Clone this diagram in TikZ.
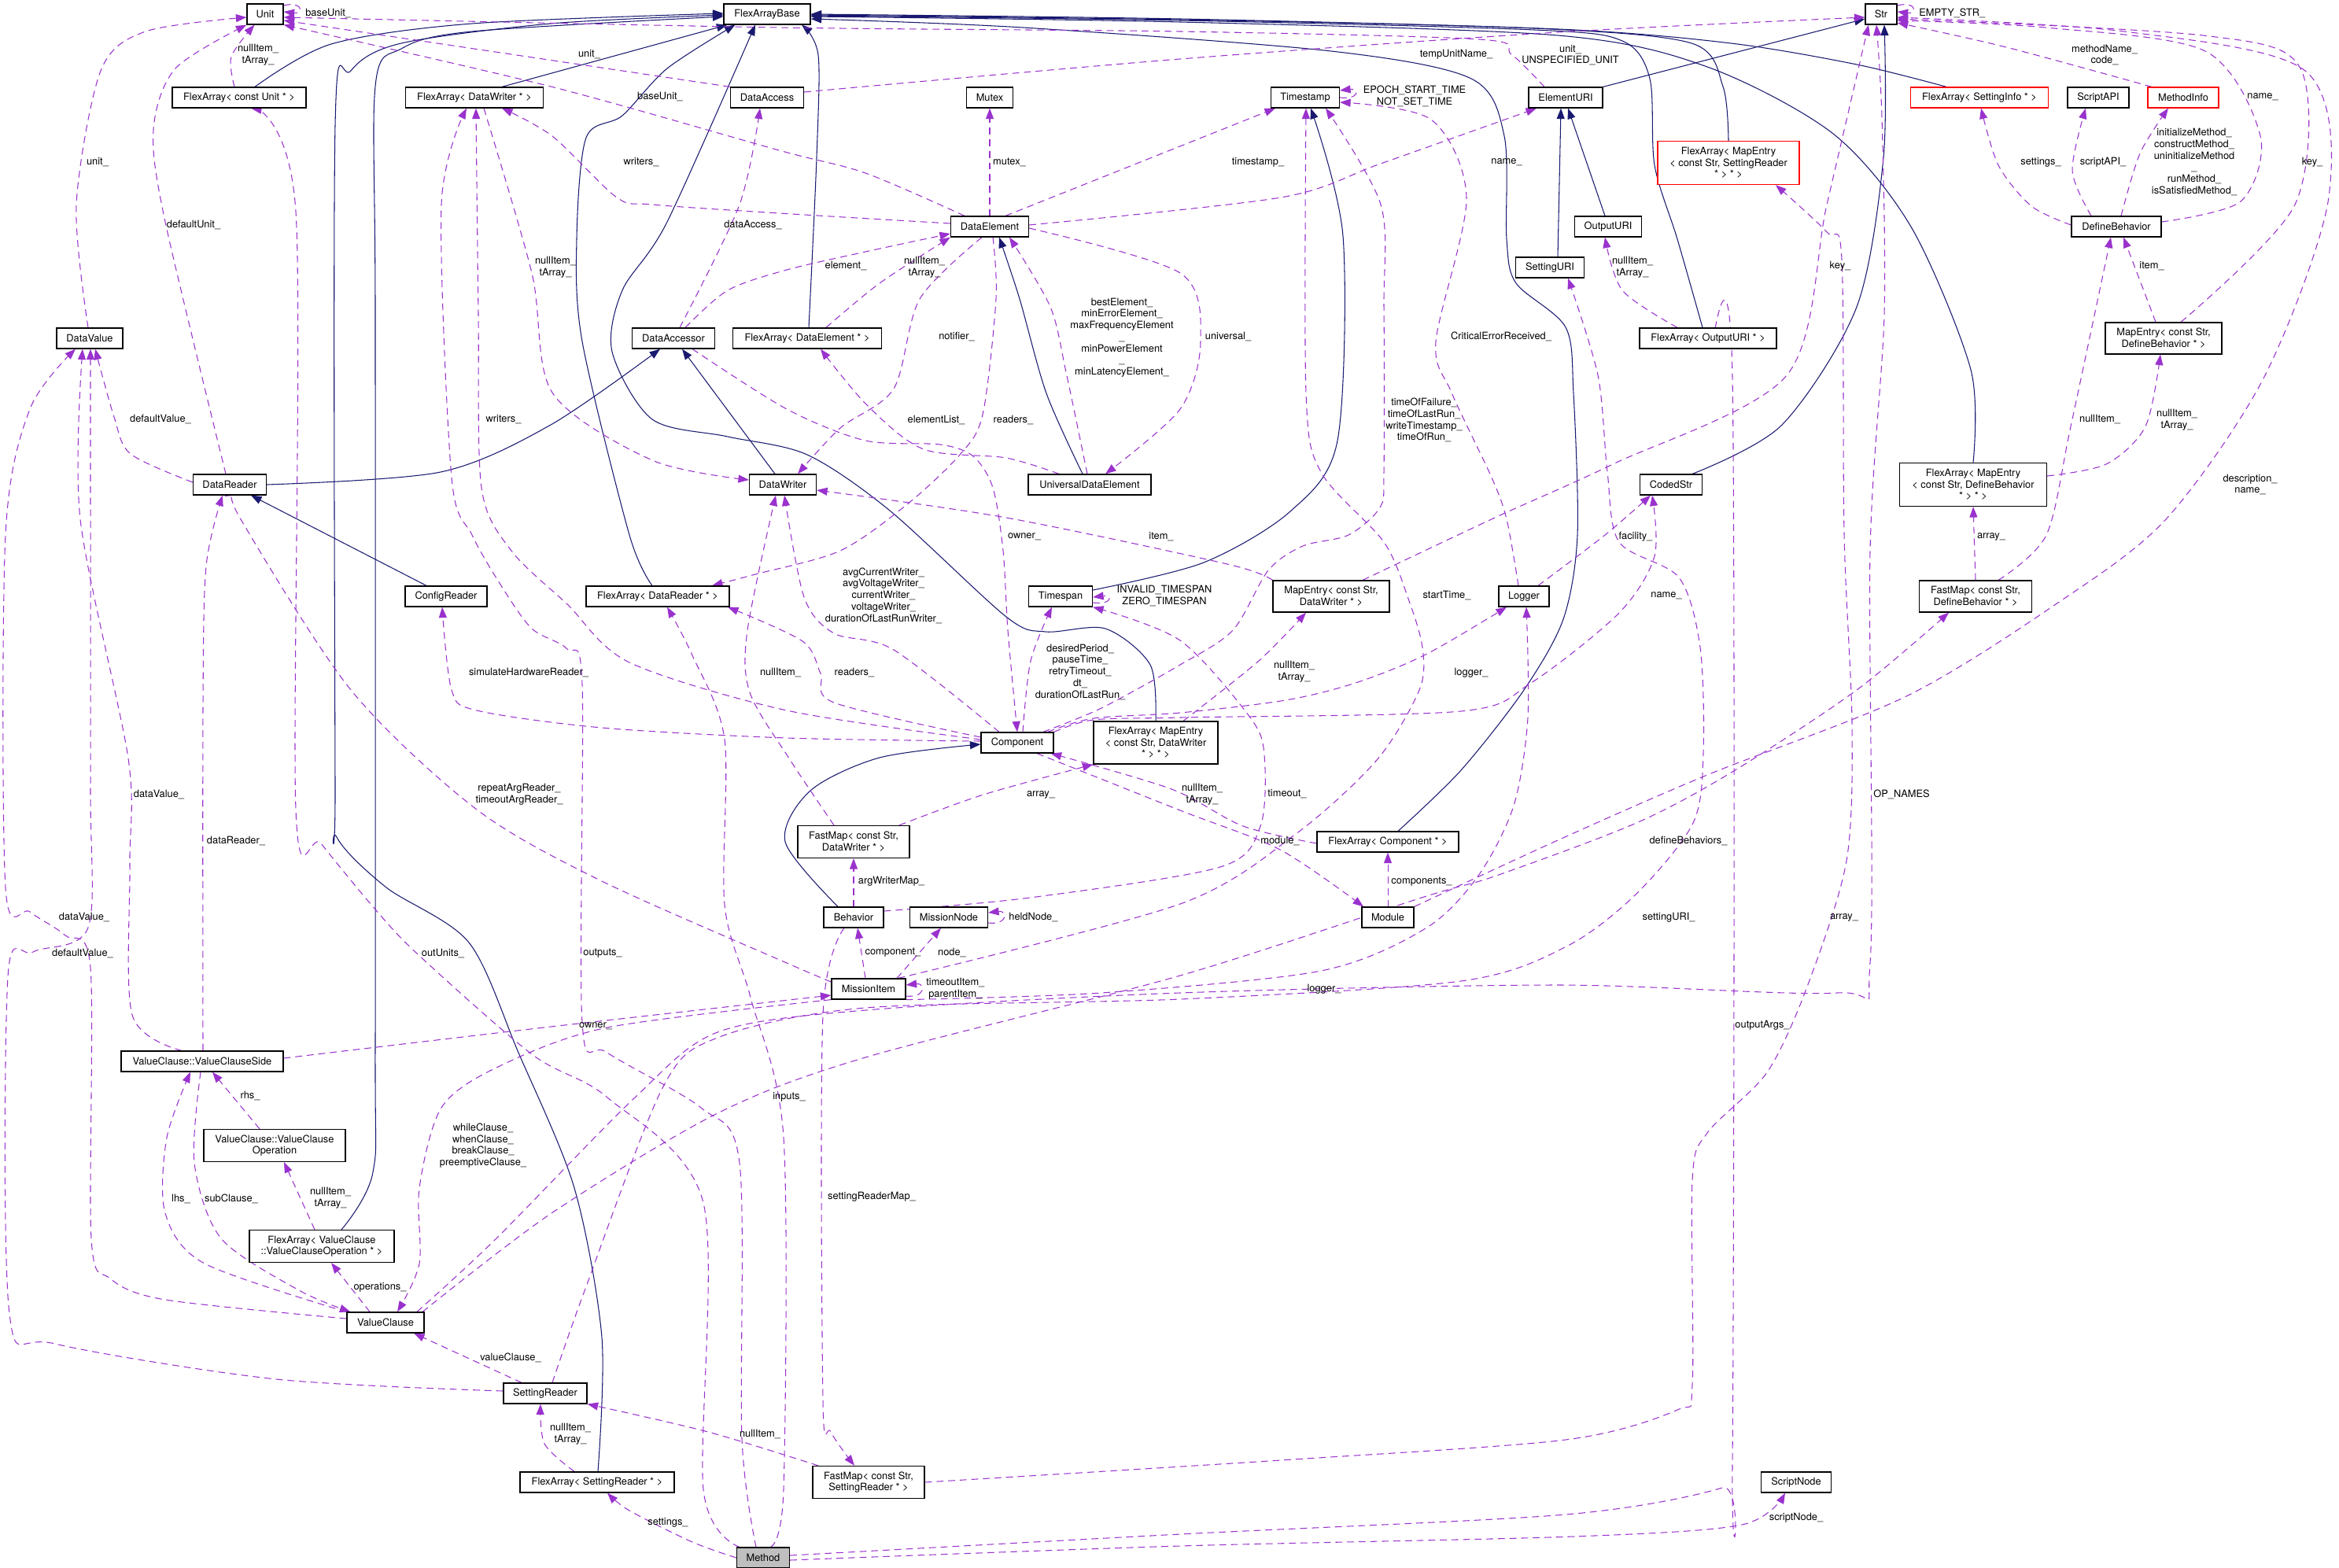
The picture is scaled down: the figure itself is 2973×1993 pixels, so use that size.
\documentclass[tikz,border=0pt]{standalone}
\usepackage{fontspec}
\setmainfont{TeX Gyre Heros}
\usetikzlibrary{arrows.meta}
\definecolor{inhcol}{HTML}{191970}
\definecolor{usecol}{HTML}{9A32CD}
\definecolor{methodgray}{HTML}{BFBFBF}
\pgfdeclarelayer{bg}
\pgfsetlayers{bg,main}
\newcommand{\dfont}{\fontsize{7.3}{8.4}\selectfont}

\begin{document}
\begin{tikzpicture}[x=0.02cm,y=-0.02cm,
  cls/.style={draw,line width=0.7pt,fill=white,inner sep=0pt,minimum height=0.52cm,align=center,font=\dfont},
  redcls/.style={cls,draw=red},
  bw/.style={minimum width=#1*0.2mm},
  bh/.style={minimum height=#1*0.2mm},
  lbl/.style={font=\dfont,align=center,inner sep=0pt},
  inh/.style={draw=inhcol,line width=0.6pt,-{Triangle[length=0.27cm,width=0.2cm]}},
  dep/.style={draw=usecol,line width=0.6pt,dash pattern=on 5pt off 3.4pt,-{Triangle[length=0.27cm,width=0.2cm]}}]
\useasboundingbox (0,0) rectangle (2973,1993);

% classes
\node[cls,bw=46] (unit) at (337,18) {Unit};
\node[cls,bw=110] (fab) at (975,18) {FlexArrayBase};
\node[cls,bw=40] (str) at (2391,18) {Str};
\node[cls,bw=170] (facu) at (304,124) {FlexArray< const Unit * >};
\node[cls,bw=175] (fadw) at (603,124) {FlexArray< DataWriter * >};
\node[cls,bw=93] (dacc) at (975,124) {DataAccess};
\node[cls,bw=59] (mutex) at (1258,124) {Mutex};
\node[cls,bw=87] (tstamp) at (1659,124) {Timestamp};
\node[cls,bw=94] (euri) at (1990,124) {ElementURI};
\node[redcls,bw=175] (fasi) at (2516,124) {FlexArray< SettingInfo * >};
\node[cls,bw=78] (sapi) at (2667,124) {ScriptAPI};
\node[redcls,bw=90] (minfo) at (2775,124) {MethodInfo};
\node[redcls,bw=180,bh=55] (famesr) at (2197,207) {FlexArray< MapEntry\\< const Str, SettingReader\\ * > * >};
\node[cls,bw=99] (delem) at (1258,288) {DataElement};
\node[cls,bw=85] (ouri) at (2044,288) {OutputURI};
\node[cls,bw=114] (defb) at (2690,288) {DefineBehavior};
\node[cls,bw=87] (suri) at (1970,340) {SettingURI};
\node[cls,bw=84] (dval) at (114,430) {DataValue};
\node[cls,bw=105] (daccr) at (856,430) {DataAccessor};
\node[cls,bw=189] (fade) at (1026,430) {FlexArray< DataElement * >};
\node[cls,bw=174] (faou) at (2171,430) {FlexArray< OutputURI * >};
\node[cls,bw=148,bh=40] (medb) at (2750,430) {MapEntry< const Str,\\ DefineBehavior * >};
\node[cls,bw=93] (drd) at (292,616) {DataReader};
\node[cls,bw=85] (dwr) at (995,616) {DataWriter};
\node[cls,bw=156] (ude) at (1385,616) {UniversalDataElement};
\node[cls,bw=79] (cstr) at (2124,616) {CodedStr};
\node[cls,bw=187,bh=55] (famedb) at (2508,616) {FlexArray< MapEntry\\< const Str, DefineBehavior\\ * > * >};
\node[cls,bw=104] (cfgr) at (567,758) {ConfigReader};
\node[cls,bw=182] (fadr) at (836,758) {FlexArray< DataReader * >};
\node[cls,bw=81] (tspan) at (1348,758) {Timespan};
\node[cls,bw=148,bh=40] (medw) at (1692,758) {MapEntry< const Str,\\ DataWriter * >};
\node[cls,bw=64] (logger) at (1937,758) {Logger};
\node[cls,bw=143,bh=40] (fmdb) at (2511,758) {FastMap< const Str,\\ DefineBehavior * >};
\node[cls,bw=92] (comp) at (1293,944) {Component};
\node[cls,bw=158,bh=54] (famedw) at (1469,944) {FlexArray< MapEntry\\< const Str, DataWriter\\ * > * >};
\node[cls,bw=142,bh=41] (fmdw) at (1085,1070) {FastMap< const Str,\\ DataWriter * >};
\node[cls,bw=180] (fac) at (1764,1070) {FlexArray< Component * >};
\node[cls,bw=76] (behav) at (1085,1166) {Behavior};
\node[cls,bw=99] (mnode) at (1206,1166) {MissionNode};
\node[cls,bw=66] (module) at (1764,1166) {Module};
\node[cls,bw=94] (mitem) at (1104,1257) {MissionItem};
\node[cls,bw=206] (vcs) at (257,1349) {ValueClause::ValueClauseSide};
\node[cls,bw=180,bh=41] (vco) at (349,1456) {ValueClause::ValueClause\\Operation};
\node[cls,bw=184,bh=41] (favco) at (409,1584) {FlexArray< ValueClause\\::ValueClauseOperation * >};
\node[cls,bw=98] (vcl) at (490,1681) {ValueClause};
\node[cls,bw=106] (srd) at (693,1771) {SettingReader};
\node[cls,bw=196] (fasr) at (759,1884) {FlexArray< SettingReader * >};
\node[cls,bw=142,bh=41] (fmsr) at (1104,1884) {FastMap< const Str,\\ SettingReader * >};
\node[cls,bw=89] (snode) at (2283,1884) {ScriptNode};
\node[cls,bw=67,fill=methodgray] (method) at (970,1980) {Method};

\begin{pgfonlayer}{bg}
% inheritance
\draw[inh] plot[smooth] coordinates {([shift={(20,0)}]facu.north) (421,56) (600,30) ([shift={(0,-1)}]fab.west)};
\draw[inh] ([shift={(35,0)}]fadw.north) -- ([shift={(5,0)}]fab.south west);
\draw[inh] plot[smooth] coordinates {([shift={(2,0)}]fade.north) (1038,200) (1040,70) ([shift={(44,0)}]fab.south)};
\draw[inh] plot[smooth] coordinates {([shift={(-7,0)}]fadr.north) (800,680) (740,434) (733,303) (745,175) (791,147) (848,87) ([shift={(15,0)}]fab.south west)};
\draw[inh] ([shift={(-25,0)}]cfgr.north) -- ([shift={(27,0)}]drd.south);
\draw[inh] plot[smooth] coordinates {(drd.east) (560,600) (700,540) ([shift={(-17,0)}]daccr.south)};
\draw[inh] ([shift={(-10,0)}]dwr.north) -- ([shift={(11,0)}]daccr.south);
\draw[inh] plot[smooth] coordinates {([shift={(-9,0)}]ude.north) (1330,500) (1296,380) ([shift={(12,0)}]delem.south)};
\draw[inh] plot[smooth] coordinates {([shift={(0,-8)}]tspan.east) (1530,715) (1640,650) (1700,560) (1707,300) ([shift={(7,0)}]tstamp.south)};
\draw[inh] (euri.north east) -- ([shift={(0,6)}]str.west);
\draw[inh] ([shift={(10,0)}]suri.north) -- ([shift={(-6,0)}]euri.south);
\draw[inh] ([shift={(-4,0)}]ouri.north) -- ([shift={(3,0)}]euri.south);
\draw[inh] plot[smooth] coordinates {([shift={(-7,0)}]faou.north) (2132,304) (2103,210) (2097,100) (2062,52) (1950,38) (1500,26) ([shift={(0,2)}]fab.east)};
\draw[inh] plot[smooth] coordinates {(famesr.north) (2190,110) (2150,55) (1950,36) (1500,25) ([shift={(0,1)}]fab.east)};
\draw[inh] plot[smooth] coordinates {([shift={(-42,0)}]fasi.north) (2360,82) (2200,55) (1980,37) (1500,24) (fab.east)};
\draw[inh] plot[smooth] coordinates {(famedb.north) (2505,470) (2430,290) (2330,170) (2170,85) (1980,45) (1500,28) ([shift={(0,3)}]fab.east)};
\draw[inh] plot[smooth] coordinates {([shift={(27,0)}]cstr.north) (2265,540) (2360,390) (2394,200) ([shift={(4,0)}]str.south)};
\draw[inh] plot[smooth] coordinates {([shift={(13,0)}]fac.north) (1857,979) (1937,877) (1987,787) (2005,680) (2000,500) (1990,416) (1927,360) (1915,304) (1912,173) (1870,100) (1692,65) (1300,35) ([shift={(0,6)}]fab.east)};
\draw[inh] plot[smooth] coordinates {(famedw.north) (1462,845) (1405,799) (1329,803) (1279,784) (1131,649) (1026,578) (925,555) (829,533) (778,447) (791,369) (848,282) ([shift={(-15,0)}]fab.south)};
\draw[inh] plot[smooth] coordinates {([shift={(-20,0)}]behav.north) (998,1070) (1030,1005) (1118,963) ([shift={(0,2)}]comp.west)};
\draw[inh] plot[smooth] coordinates {([shift={(25,0)}]favco.north) (474,1490) (477,1320) (477,400) (477,110) (510,62) (600,40) ([shift={(0,3)}]fab.west)};
\draw[inh] plot[smooth] coordinates {([shift={(1,0)}]fasr.north) (765,1700) (730,1510) (659,1338) (596,1198) (491,1128) (428,1064) (426,1000) (426,160) (446,90) (510,55) (700,30) ([shift={(0,1)}]fab.west)};

% members
\draw[dep] ([shift={(0,-11)}]unit.east) .. controls +(25,-6) and +(25,3) .. ([shift={(0,-3)}]unit.east);
\draw[dep] plot[smooth] coordinates {([shift={(-2,0)}]dval.north) (97,260) (128,90) (185,40) ([shift={(0,4)}]unit.west)};
\draw[dep] plot[smooth] coordinates {([shift={(-5,0)}]drd.north) (210,282) (195,165) (223,87) (unit.south west)};
\draw[dep] plot[smooth] coordinates {([shift={(-6,0)}]facu.north) (294,72) ([shift={(10,0)}]unit.south west)};
\draw[dep] (dacc.north west) -- ([shift={(0,8)}]unit.east);
\draw[dep] plot[smooth] coordinates {([shift={(-32,0)}]delem.north) (1100,220) (990,191) (700,110) (unit.south east)};
\draw[dep] plot[smooth] coordinates {([shift={(-27,0)}]euri.north) (1921,69) (1880,50) (1500,40) (990,35) ([shift={(0,4)}]unit.east)};
\draw[dep] plot[smooth] coordinates {([shift={(0,-7)}]dacc.east) (1500,75) (1980,41) ([shift={(0,4)}]str.west)};
\draw[dep] plot[smooth] coordinates {([shift={(0,-3)}]drd.west) (166,577) (145,530) ([shift={(7,0)}]dval.south)};
\draw[dep] plot[smooth] coordinates {([shift={(0,-4)}]delem.west) (990,271) (829,260) (784,251) (702,173) ([shift={(35,0)}]fadw.south)};
\draw[dep] plot[smooth] coordinates {([shift={(0,-4)}]comp.west) (1000,903) (800,842) (721,768) (650,700) (612,620) (608,400) ([shift={(2,0)}]fadw.south)};
\draw[dep] plot[smooth] coordinates {([shift={(12,0)}]fadw.south) (676,347) (702,499) (829,585) ([shift={(0,-6)}]dwr.west)};
\draw[dep] plot[smooth] coordinates {([shift={(8,0)}]daccr.north) (940,260) ([shift={(-9,0)}]dacc.south)};
\draw[dep] plot[smooth] coordinates {([shift={(15,0)}]daccr.north) (925,369) (1000,343) (1100,320) ([shift={(0,9)}]delem.west)};
\draw[dep] plot[smooth] coordinates {([shift={(24,0)}]fade.north) (1118,360) (delem.south west)};
\draw[dep] (delem.north) -- (mutex.south);
\draw[dep] ([shift={(20,0)}]delem.north) -- ([shift={(-38,0)}]tstamp.south);
\draw[dep] plot[smooth] coordinates {([shift={(0,-2)}]delem.east) (1628,251) (1755,208) ([shift={(-37,0)}]euri.south)};
\draw[dep] plot[smooth] coordinates {([shift={(-10,0)}]delem.south) (1169,380) (1136,494) (1068,544) ([shift={(19,0)}]dwr.north)};
\draw[dep] plot[smooth] coordinates {([shift={(4,0)}]delem.south) (1266,380) (1249,527) (1220,578) (1153,641) (1068,700) (960,730) ([shift={(69,0)}]fadr.north)};
\draw[dep] plot[smooth] coordinates {([shift={(0,2)}]delem.east) (1500,347) (1526,434) (1500,520) ([shift={(20,0)}]ude.north)};
\draw[dep] plot[smooth] coordinates {([shift={(-3,0)}]ude.north) (1355,473) (1335,390) ([shift={(25,0)}]delem.south)};
\draw[dep] plot[smooth] coordinates {([shift={(-39,0)}]ude.north) (1279,582) (1174,571) (1102,515) ([shift={(17,0)}]fade.south)};
\draw[dep] plot[smooth] coordinates {([shift={(24,0)}]daccr.south) (1000,520) (1100,560) (1195,565) (1237,580) (1262,620) (1275,700) (1281,801) (comp.north)};
\draw[dep] plot[smooth] coordinates {([shift={(0,-7)}]comp.west) (1060,893) (1043,856) (1020,815) ([shift={(89,0)}]fadr.south)};
\draw[dep] plot[smooth] coordinates {([shift={(0,-2)}]comp.west) (1000,938) (765,925) (606,903) (574,877) ([shift={(-5,0)}]cfgr.south)};
\draw[dep] plot[smooth] coordinates {([shift={(-23,0)}]comp.north) (1136,826) (1060,805) (1022,759) ([shift={(2,0)}]dwr.south)};
\draw[dep] plot[smooth] coordinates {([shift={(-25,0)}]fmdw.north) (1003,964) (953,880) (950,801) ([shift={(-9,0)}]dwr.south)};
\draw[dep] plot[smooth] coordinates {([shift={(7,0)}]comp.north) (1310,840) ([shift={(-11,0)}]tspan.south)};
\draw[dep] plot[smooth] coordinates {([shift={(-8,0)}]comp.north east) (1390,913) (1500,906) (1634,890) (1723,868) (1812,832) ([shift={(-22,0)}]logger.south)};
\draw[dep] plot[smooth] coordinates {(comp.north east) (1390,915) (1500,912) (1857,904) (1946,868) (2058,779) (2103,707) ([shift={(-24,0)}]cstr.south)};
\draw[dep] plot[smooth] coordinates {([shift={(-14,0)}]comp.north east) (1400,900) (1500,845) (1567,801) (1612,725) (1656,694) (1714,680) (1754,645) (1759,600) (1759,390) (1755,260) ([shift={(26,0)}]tstamp.south)};
\draw[dep] plot[smooth] coordinates {([shift={(0,2)}]fac.west) (1580,1050) (1489,1003) ([shift={(-4,0)}]comp.south east)};
\draw[dep] plot[smooth] coordinates {([shift={(25,0)}]comp.south) (1500,1030) (1627,1080) ([shift={(-31,0)}]module.north)};
\draw[dep] (module.north) -- (fac.south);
\draw[dep] plot[smooth] coordinates {(module.north east) (1980,1068) (2170,985) (2423,885) (2613,768) (2753,660) (2879,477) (2960,250) (2930,90) (2700,40) ([shift={(0,4)}]str.east)};
\draw[dep] plot[smooth] coordinates {([shift={(58,0)}]fmdw.north) (1250,1010) (famedw.south west)};
\draw[dep] plot[smooth] coordinates {([shift={(35,0)}]famedw.north) (1600,840) ([shift={(-32,0)}]medw.south)};
\draw[dep] plot[smooth] coordinates {(medw.north west) (1560,717) (1279,658) ([shift={(0,7)}]dwr.east)};
\draw[dep] plot[smooth] coordinates {([shift={(40,0)}]medw.north) (1900,658) (2050,590) (2271,477) (2322,260) ([shift={(-16,0)}]str.south)};
\draw[dep] (behav.north) -- (fmdw.south);
\draw[dep] plot[smooth] coordinates {([shift={(0,-8)}]behav.east) (1309,1141) (1551,1102) (1602,1050) (1607,960) (1589,912) (1500,814) (tspan.south east)};
\draw[dep] plot[smooth] coordinates {([shift={(-12,0)}]behav.south) (1046,1290) (1046,1780) (1056,1820) ([shift={(-18,0)}]fmsr.north)};
\draw[dep] ([shift={(-4,0)}]mitem.north) -- ([shift={(5,0)}]behav.south);
\draw[dep] ([shift={(36,0)}]mitem.north) -- ([shift={(-10,0)}]mnode.south);
\draw[dep] ([shift={(0,7)}]mnode.east) .. controls +(25,3) and +(25,-3) .. ([shift={(0,-6)}]mnode.east);
\draw[dep] ([shift={(0,9)}]mitem.east) .. controls +(25,3) and +(25,-3) .. ([shift={(0,-5)}]mitem.east);
\draw[dep] plot[smooth] coordinates {([shift={(0,-9)}]mitem.west) (1000,1224) (765,1120) (606,1029) (446,877) (306,660) ([shift={(8,0)}]drd.south)};
\draw[dep] plot[smooth] coordinates {([shift={(-10,0)}]mitem.north east) (1500,1149) (1647,1060) (1750,966) (1804,877) (1808,823) (1790,761) (1759,689) (1679,600) (1660,500) ([shift={(1,0)}]tstamp.south)};
\draw[dep] plot[smooth] coordinates {(mitem.south east) (1400,1262) (1679,1234) (1812,1180) (1879,1113) (1924,1024) (1942,912) ([shift={(3,0)}]logger.south)};
\draw[dep] plot[smooth] coordinates {([shift={(0,-4)}]vcs.east) (700,1305) ([shift={(0,8)}]mitem.west)};
\draw[dep] plot[smooth] coordinates {(mitem.south west) (772,1306) (631,1357) (561,1408) (533,1510) (533,1606) ([shift={(15,0)}]vcl.north)};
\draw[dep] plot[smooth] coordinates {([shift={(40,0)}]vcl.north) (631,1574) (807,1395) (912,1312) (1100,1284) (1500,1262) (1980,1252) (2335,1262) (2377,1224) (2377,700) (2395,400) (2392,150) ([shift={(-6,0)}]str.south)};
\draw[dep] plot[smooth] coordinates {([shift={(47,0)}]vcl.north) (701,1542) (912,1415) (1100,1344) (1500,1240) (1810,1140) (1902,1113) (2080,1046) (2202,981) (2360,877) ([shift={(-34,0)}]fmdb.south)};
\draw[dep] plot[smooth] coordinates {([shift={(0,-5)}]vcl.west) (210,1652) (140,1625) (116,1574) (115,1230) (83,1189) (38,1159) (7,1128) (7,680) (38,520) ([shift={(-18,0)}]dval.south)};
\draw[dep] plot[smooth] coordinates {([shift={(0,-3)}]srd.west) (351,1753) (70,1708) (12,1670) (10,1242) (42,1210) (112,1179) (115,1000) (115,600) ([shift={(1,0)}]dval.south)};
\draw[dep] plot[smooth] coordinates {([shift={(-26,0)}]vcs.north) (168,1290) (165,1100) (163,964) (102,660) ([shift={(-9,0)}]dval.south)};
\draw[dep] plot[smooth] coordinates {([shift={(1,0)}]vcs.north) (258,900) (262,720) ([shift={(-9,0)}]drd.south)};
\draw[dep] plot[smooth] coordinates {(vcl.north west) (260,1606) (210,1542) (212,1446) ([shift={(-15,0)}]vcs.south)};
\draw[dep] plot[smooth] coordinates {([shift={(-2,0)}]vcs.south) (247,1478) (281,1574) (380,1640) ([shift={(5,0)}]vcl.north west)};
\draw[dep] ([shift={(-19,0)}]vco.north) -- ([shift={(13,0)}]vcs.south);
\draw[dep] ([shift={(-9,0)}]favco.north) -- ([shift={(12,0)}]vco.south);
\draw[dep] ([shift={(-20,0)}]vcl.north) -- ([shift={(12,0)}]favco.south);
\draw[dep] ([shift={(-30,0)}]srd.north) -- ([shift={(36,0)}]vcl.south);
\draw[dep] plot[smooth] coordinates {([shift={(-29,0)}]fasr.north) (692,1835) ([shift={(-6,0)}]srd.south)};
\draw[dep] plot[smooth] coordinates {([shift={(-64,0)}]fmsr.north) (900,1820) (srd.south east)};
\draw[dep] plot[smooth] coordinates {([shift={(9,0)}]srd.north) (744,1638) (842,1383) (912,1319) (1100,1281) (1500,1270) (1857,1247) (1991,1203) (2080,1136) (2152,1046) (2165,957) (2161,823) (2134,734) (2058,689) (2043,600) (2031,477) ([shift={(23,0)}]suri.south)};
\draw[dep] plot[smooth] coordinates {(method.west) (880,1960) (800,1920) ([shift={(13,0)}]fasr.south)};
\draw[dep] plot[smooth] coordinates {([shift={(-30,0)}]method.north) (894,1893) (894,1529) (772,1395) (676,1340) (529,1211) (472,1150) (408,1072) (376,1029) (376,269) ([shift={(15,0)}]facu.south)};
\draw[dep] plot[smooth] coordinates {([shift={(-9,0)}]method.north) (943,1829) (940,1478) (891,1408) (772,1338) (740,1300) (740,870) (721,825) (676,799) (638,746) (600,680) (574,607) (561,260) ([shift={(-10,0)}]fadw.south)};
\draw[dep] plot[smooth] coordinates {([shift={(9,0)}]method.north) (996,1893) (996,1446) (954,1268) (921,1150) (921,940) (880,833) ([shift={(12,0)}]fadr.south)};
\draw[dep] plot[smooth] coordinates {([shift={(0,3)}]method.east) (1500,1965) (2000,1953) (2214,1938) ([shift={(-14,0)}]snode.south)};
\draw[dep] plot[smooth] coordinates {([shift={(0,-3)}]method.east) (1500,1950) (1990,1925) (2189,1891) (2202,1860) (2202,480) ([shift={(5,0)}]faou.south)};
\draw[dep] plot[smooth] coordinates {(fmsr.east) (1628,1856) (1990,1830) (2132,1792) (2151,1760) (2151,1500) (2170,1440) (2246,1363) (2297,1254) (2347,1094) (2354,920) (2344,680) (2341,330) (2322,295) ([shift={(60,0)}]famesr.south)};
\draw[dep] (fmdb.north) -- (famedb.south);
\draw[dep] plot[smooth] coordinates {([shift={(29,0)}]fmdb.north) (2601,680) (2632,542) ([shift={(-7,0)}]defb.south)};
\draw[dep] plot[smooth] coordinates {([shift={(0,-11)}]famedb.east) (2677,590) (2727,542) ([shift={(-4,0)}]medb.south)};
\draw[dep] ([shift={(-10,0)}]medb.north) -- ([shift={(9,0)}]defb.south);
\draw[dep] plot[smooth] coordinates {([shift={(22,0)}]medb.north) (2917,260) (2924,87) (2800,45) ([shift={(0,6)}]str.east)};
\draw[dep] plot[smooth] coordinates {([shift={(0,-2)}]defb.west) (2582,262) (2540,210) ([shift={(2,0)}]fasi.south)};
\draw[dep] plot[smooth] coordinates {([shift={(-32,0)}]defb.north) (2634,217) ([shift={(-16,0)}]sapi.south)};
\draw[dep] plot[smooth] coordinates {([shift={(6,0)}]defb.north) (2720,195) ([shift={(-19,0)}]minfo.south)};
\draw[dep] plot[smooth] coordinates {([shift={(0,-6)}]defb.east) (2848,256) (2873,173) (2803,65) (2600,35) ([shift={(0,8)}]str.east)};
\draw[dep] plot[smooth] coordinates {([shift={(-40,0)}]minfo.north) (2550,60) ([shift={(0,11)}]str.east)};
\draw[dep] ([shift={(0,-11)}]str.east) .. controls +(25,-6) and +(25,3) .. ([shift={(0,-3)}]str.east);
\draw[dep] plot[smooth] coordinates {([shift={(-39,0)}]faou.north) (2062,369) ([shift={(-4,0)}]ouri.south)};
\draw[dep] plot[smooth] coordinates {([shift={(18,0)}]logger.north) (2040,680) ([shift={(-26,0)}]cstr.south)};
\draw[dep] plot[smooth] coordinates {([shift={(-7,0)}]logger.north) (1915,660) (1896,607) (1845,499) (1825,434) (1864,252) (1819,152) ([shift={(0,6)}]tstamp.east)};
\draw[dep] (tstamp.east) .. controls +(25,3) and +(25,-3) .. ([shift={(0,-9)}]tstamp.east);
\draw[dep] ([shift={(0,8)}]tspan.east) .. controls +(25,3) and +(25,-3) .. ([shift={(0,1)}]tspan.east);
\end{pgfonlayer}

% member labels
\foreach \lx/\ly/\lt [count=\k] in {124/206/{unit\_}, 246/286/{defaultUnit\_}, 328/70/{nullItem\_\\tArray\_},
  749/69/{unit\_}, 839/123/{baseUnit\_}, 1996/70/{unit\_\\UNSPECIFIED\_UNIT}, 1851/69/{tempUnitName\_},
  204/533/{defaultValue\_}, 815/206/{writers\_}, 640/533/{writers\_}, 706/340/{nullItem\_\\tArray\_},
  957/286/{dataAccess\_}, 1075/338/{element\_}, 1175/340/{nullItem\_\\tArray\_}, 1283/206/{mutex\_},
  1599/206/{timestamp\_}, 1915/206/{name\_}, 1216/428/{notifier\_}, 1288/534/{readers\_}, 1561/428/{universal\_},
  1426/429/{bestElement\_\\minErrorElement\_\\maxFrequencyElement\\\_\\minPowerElement\\\_\\minLatencyElement\_},
  1190/534/{elementList\_}, 1302/682/{owner\_}, 1086/855/{readers\_}, 672/855/{simulateHardwareReader\_},
  1123/757/{avgCurrentWriter\_\\avgVoltageWriter\_\\currentWriter\_\\voltageWriter\_\\durationOfLastRunWriter\_},
  992/855/{nullItem\_}, 1373/854/{desiredPeriod\_\\pauseTime\_\\retryTimeout\_\\dt\_\\durationOfLastRun\_},
  1870/855/{logger\_}, 2118/757/{name\_}, 1810/534/{timeOfFailure\_\\timeOfLastRun\_\\writeTimestamp\_\\timeOfRun\_},
  1528/1010/{nullItem\_\\tArray\_}, 1627/1069/{module\_}, 1807/1121/{components\_}, 2860/616/{description\_\\name\_},
  1323/1010/{array\_}, 1645/854/{nullItem\_\\tArray\_}, 1476/682/{item\_}, 2339/338/{key\_},
  1133/1120/{argWriterMap\_}, 1636/1009/{timeout\_}, 1108/1521/{settingReaderMap\_}, 1135/1211/{component\_},
  1210/1211/{node\_}, 660/1010/{repeatArgReader\_\\timeoutArgReader\_}, 1839/757/{startTime\_}, 1683/1257/{logger\_},
  757/1304/{owner\_}, 614/1456/{whileClause\_\\whenClause\_\\breakClause\_\\preemptiveClause\_}, 2417/1010/{OP\_NAMES},
  2146/1069/{defineBehaviors\_}, 107/1166/{dataValue\_}, 105/1212/{defaultValue\_}, 202/1010/{dataValue\_},
  300/1069/{dataReader\_}, 230/1524/{lhs\_}, 294/1524/{subClause\_}, 318/1393/{rhs\_}, 420/1523/{nullItem\_\\tArray\_},
  483/1636/{operations\_}, 649/1726/{valueClause\_}, 725/1823/{nullItem\_\\tArray\_}, 966/1823/{nullItem\_},
  2121/1166/{settingURI\_}, 849/1935/{settings\_}, 563/1212/{outUnits\_}, 766/1212/{outputs\_}, 1003/1394/{inputs\_},
  2283/1929/{scriptNode\_}, 2240/1303/{outputArgs\_}, 2344/1166/{array\_}, 2531/682/{array\_}, 2669/533/{nullItem\_},
  2767/534/{nullItem\_\\tArray\_}, 2735/338/{item\_}, 2939/206/{key\_}, 2594/206/{settings\_}, 2673/206/{scriptAPI\_},
  2789/206/{initializeMethod\_\\constructMethod\_\\uninitializeMethod\\\_\\runMethod\_\\isSatisfiedMethod\_},
  2876/123/{name\_}, 2675/70/{methodName\_\\code\_}, 2075/340/{nullItem\_\\tArray\_}, 2079/682/{facility\_},
  1908/428/{CriticalErrorReceived\_}, 1798/122/{EPOCH\_START\_TIME\\NOT\_SET\_TIME},
  1480/757/{INVALID\_TIMESPAN\\ZERO\_TIMESPAN}}
  \node[lbl] (lab\k) at (\lx,\ly) {\lt};
\node[lbl,anchor=west] (labunit) at (388,17) {baseUnit\_};
\node[lbl,anchor=west] (labstr) at (2439,17) {EMPTY\_STR\_};
\node[lbl,anchor=west] (labnode) at (1282,1166) {heldNode\_};
\node[lbl,anchor=west] (labitem) at (1177,1257) {timeoutItem\_\\parentItem\_};
\end{tikzpicture}
\end{document}
